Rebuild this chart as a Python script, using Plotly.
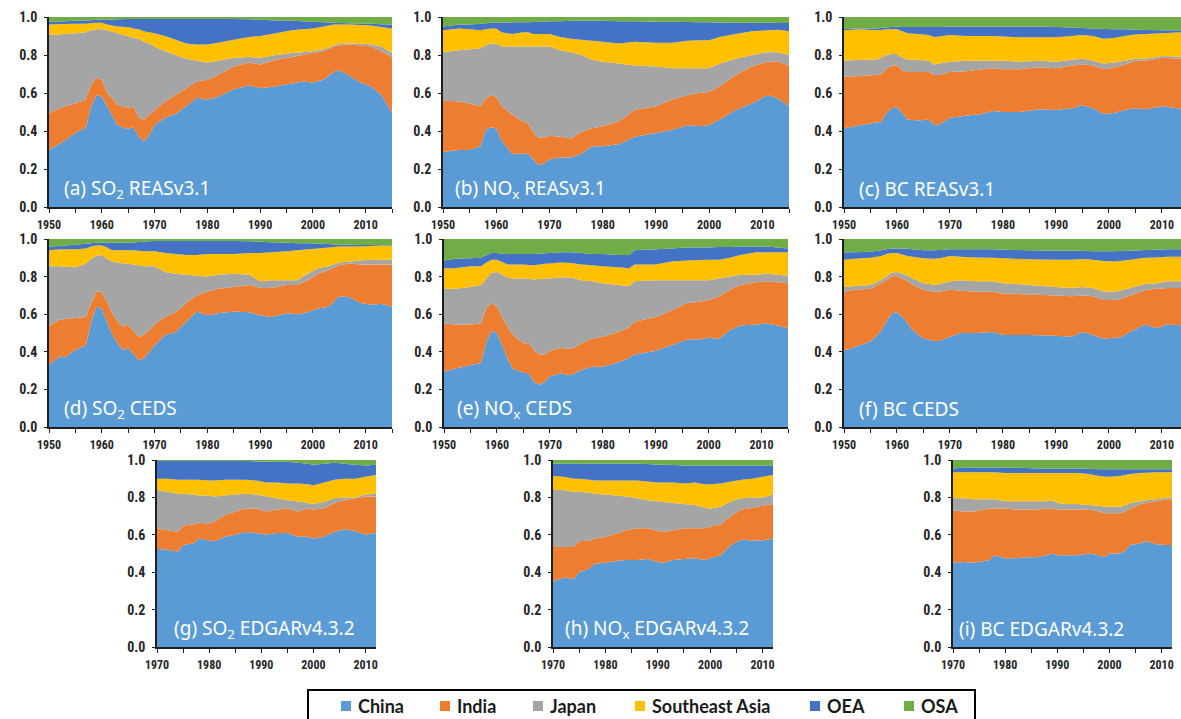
import plotly.graph_objects as go

# ---------------- DATA (cumulative share: top edge of each stacked layer) ----------------
REGIONS = ["China", "India", "Japan", "Southeast Asia", "OEA", "OSA"]
COLORS = ["#5B9BD5", "#ED7D31", "#A5A5A5", "#FFC000", "#4472C4", "#70AD47"]

# (a) SO2 REASv3.1
A_YEARS = [1950,1953,1955,1957,1958,1959,1960,1961,1963,1965,1966,1967,1968,1969,1970,1972,1974,1976,1978,1980,1982,1985,1988,1990,1993,1996,1998,2000,2002,2004,2005,2007,2009,2011,2013,2015]
A_CHINA = [.30,.35,.39,.42,.53,.59,.58,.53,.43,.41,.42,.37,.345,.38,.43,.47,.49,.53,.575,.565,.58,.62,.64,.625,.635,.65,.66,.655,.67,.71,.72,.69,.655,.635,.59,.495]
A_INDIA = [.495,.53,.545,.565,.645,.68,.67,.60,.54,.52,.53,.47,.46,.485,.51,.555,.59,.625,.66,.67,.695,.74,.76,.75,.775,.79,.80,.81,.82,.845,.85,.855,.85,.845,.82,.79]
A_JAPAN = [.905,.91,.915,.92,.93,.935,.935,.93,.915,.90,.89,.885,.87,.86,.845,.82,.80,.78,.77,.76,.77,.785,.79,.785,.80,.81,.815,.82,.83,.85,.86,.86,.86,.855,.845,.81]
A_SEA = [.96,.963,.965,.965,.968,.97,.97,.96,.95,.947,.94,.935,.925,.92,.915,.90,.88,.86,.855,.855,.865,.88,.895,.90,.915,.93,.935,.94,.95,.96,.96,.96,.958,.955,.948,.94]
A_OEA = [.975,.978,.98,.982,.983,.985,.985,.986,.988,.99,.99,.99,.99,.99,.99,.99,.99,.99,.99,.99,.99,.99,.988,.985,.982,.98,.978,.975,.972,.97,.968,.967,.965,.964,.962,.96]

# (b) NOx REASv3.1
B_YEARS = [1950,1953,1955,1957,1958,1959,1960,1961,1963,1965,1966,1967,1968,1969,1970,1972,1974,1976,1978,1980,1983,1986,1990,1993,1996,1998,2000,2002,2005,2008,2011,2013,2015]
B_CHINA = [.29,.30,.30,.32,.405,.42,.415,.35,.28,.28,.28,.25,.22,.23,.25,.26,.26,.28,.32,.32,.33,.37,.39,.405,.43,.425,.43,.46,.51,.545,.59,.57,.53]
B_INDIA = [.56,.555,.545,.53,.57,.59,.58,.53,.485,.45,.44,.39,.365,.365,.375,.37,.36,.395,.415,.425,.45,.51,.53,.565,.59,.60,.605,.635,.695,.74,.765,.765,.745]
B_JAPAN = [.815,.825,.83,.835,.85,.86,.86,.845,.845,.845,.845,.845,.845,.845,.845,.825,.815,.80,.775,.765,.755,.745,.74,.73,.73,.73,.73,.755,.78,.80,.815,.815,.80]
B_SEA = [.93,.94,.935,.93,.935,.94,.94,.92,.91,.92,.92,.91,.91,.91,.91,.895,.885,.88,.875,.87,.86,.87,.865,.865,.875,.878,.878,.895,.91,.925,.93,.933,.925]
B_OEA = [.95,.96,.96,.965,.967,.97,.97,.97,.972,.972,.972,.974,.975,.976,.977,.978,.98,.98,.98,.98,.978,.977,.975,.975,.974,.973,.972,.971,.97,.97,.97,.969,.968]

# (c) BC REASv3.1
C_YEARS = [1950,1953,1956,1957,1958,1959,1960,1961,1962,1964,1966,1967,1968,1970,1973,1976,1978,1980,1983,1987,1990,1993,1995,1997,1999,2001,2003,2005,2007,2010,2014]
C_CHINA = [.415,.43,.445,.447,.495,.52,.525,.495,.46,.455,.46,.43,.435,.47,.48,.49,.505,.50,.50,.515,.51,.52,.535,.52,.49,.495,.51,.52,.515,.53,.515]
C_INDIA = [.685,.69,.695,.70,.725,.745,.745,.72,.71,.71,.71,.695,.695,.71,.715,.725,.73,.725,.725,.735,.73,.745,.75,.745,.725,.735,.75,.77,.77,.785,.78]
C_JAPAN = [.77,.775,.775,.785,.80,.805,.805,.785,.775,.775,.77,.75,.755,.765,.77,.77,.77,.77,.765,.77,.765,.775,.78,.77,.755,.76,.77,.78,.78,.795,.79]
C_SEA = [.93,.935,.93,.932,.935,.935,.935,.925,.915,.91,.905,.895,.897,.905,.90,.90,.90,.898,.893,.893,.893,.90,.905,.90,.885,.89,.90,.908,.91,.915,.92]
C_OEA = [.937,.94,.94,.942,.945,.948,.95,.948,.947,.947,.947,.947,.948,.95,.95,.95,.95,.95,.95,.95,.947,.945,.942,.94,.937,.936,.935,.933,.932,.93,.93]

# (d) SO2 CEDS
D_YEARS = [1950,1952,1953,1955,1957,1958,1959,1960,1961,1962,1963,1964,1965,1966,1967,1968,1969,1970,1972,1974,1976,1978,1980,1982,1985,1988,1990,1992,1995,1997,1999,2001,2003,2005,2007,2009,2011,2013,2015]
D_CHINA = [.33,.375,.37,.41,.435,.56,.64,.63,.56,.49,.445,.41,.42,.39,.355,.365,.40,.435,.49,.505,.56,.615,.595,.605,.615,.61,.595,.585,.605,.60,.61,.63,.64,.695,.69,.66,.65,.655,.64]
D_INDIA = [.54,.57,.575,.58,.585,.66,.72,.72,.665,.605,.56,.535,.545,.51,.48,.49,.515,.545,.585,.61,.66,.70,.72,.735,.745,.755,.74,.74,.755,.755,.78,.815,.835,.86,.87,.865,.865,.865,.865]
D_JAPAN = [.855,.855,.853,.85,.87,.895,.91,.915,.895,.88,.875,.87,.87,.865,.86,.855,.855,.855,.825,.815,.81,.805,.80,.81,.815,.81,.775,.78,.78,.78,.815,.845,.855,.875,.88,.885,.89,.89,.89]
D_SEA = [.94,.945,.945,.945,.95,.96,.965,.965,.955,.94,.94,.94,.94,.94,.938,.935,.935,.935,.925,.92,.915,.915,.92,.92,.92,.925,.925,.93,.935,.94,.945,.95,.955,.96,.96,.96,.963,.965,.965]
D_OEA = [.96,.963,.965,.97,.975,.978,.98,.98,.98,.98,.98,.98,.98,.982,.984,.986,.988,.99,.99,.99,.99,.99,.99,.99,.99,.988,.985,.983,.98,.978,.977,.975,.973,.97,.969,.968,.968,.968,.968]

# (e) NOx CEDS
E_YEARS = [1950,1952,1955,1957,1958,1959,1960,1961,1962,1963,1965,1966,1967,1968,1969,1970,1972,1974,1976,1978,1980,1983,1985,1986,1990,1993,1996,1998,2000,2002,2004,2006,2009,2011,2013,2015]
E_CHINA = [.295,.31,.33,.34,.455,.51,.50,.435,.365,.31,.29,.285,.24,.225,.24,.27,.285,.275,.305,.32,.32,.345,.37,.385,.405,.435,.465,.465,.475,.47,.515,.54,.545,.55,.54,.525]
E_INDIA = [.55,.545,.545,.55,.63,.66,.64,.585,.535,.49,.445,.445,.41,.385,.385,.405,.42,.415,.445,.47,.48,.505,.53,.56,.585,.62,.66,.665,.675,.695,.73,.755,.77,.775,.77,.765]
E_JAPAN = [.735,.735,.745,.755,.79,.82,.825,.81,.795,.79,.79,.788,.785,.787,.79,.79,.795,.795,.78,.775,.765,.755,.75,.775,.78,.78,.78,.78,.78,.79,.80,.81,.81,.815,.81,.805]
E_SEA = [.845,.845,.855,.855,.875,.89,.89,.878,.865,.865,.865,.862,.86,.865,.868,.87,.875,.873,.865,.86,.855,.85,.845,.865,.865,.88,.885,.888,.89,.89,.90,.915,.93,.93,.93,.93]
E_OEA = [.885,.895,.897,.90,.915,.925,.925,.922,.92,.92,.92,.92,.92,.922,.924,.925,.93,.93,.925,.92,.92,.915,.915,.94,.945,.95,.955,.955,.955,.957,.957,.96,.96,.96,.955,.95]

# (f) BC CEDS
F_YEARS = [1950,1952,1955,1957,1958,1959,1960,1961,1962,1963,1965,1966,1967,1968,1970,1972,1975,1978,1980,1985,1990,1993,1995,1997,1999,2001,2002,2004,2006,2007,2009,2011,2014]
F_CHINA = [.405,.425,.455,.51,.56,.605,.61,.585,.55,.515,.47,.465,.457,.457,.48,.50,.50,.505,.49,.49,.485,.48,.505,.49,.47,.475,.475,.505,.535,.545,.525,.545,.54]
F_INDIA = [.72,.73,.735,.765,.78,.80,.805,.79,.775,.755,.73,.725,.72,.72,.73,.725,.72,.72,.71,.705,.70,.695,.70,.695,.675,.675,.68,.70,.72,.73,.735,.74,.74]
F_JAPAN = [.745,.75,.755,.78,.80,.82,.825,.815,.805,.79,.765,.76,.755,.76,.775,.78,.775,.775,.765,.755,.745,.74,.745,.74,.72,.72,.725,.74,.755,.76,.765,.775,.775]
F_SEA = [.89,.895,.90,.91,.92,.925,.925,.918,.91,.905,.897,.896,.895,.897,.91,.905,.902,.90,.897,.892,.89,.89,.893,.89,.883,.88,.883,.89,.897,.90,.902,.905,.905]
F_OEA = [.93,.93,.932,.94,.945,.95,.95,.95,.948,.945,.94,.94,.94,.942,.945,.945,.945,.945,.943,.94,.937,.937,.938,.935,.935,.935,.936,.937,.94,.941,.943,.945,.945]

# (g) SO2 EDGARv4.3.2
G_YEARS = [1970,1972,1974,1975,1977,1978,1980,1981,1983,1985,1987,1989,1991,1993,1995,1997,1999,2000,2002,2004,2006,2008,2010,2012]
G_CHINA = [.525,.52,.51,.545,.555,.58,.57,.565,.59,.60,.615,.61,.60,.61,.61,.59,.59,.58,.59,.615,.63,.62,.60,.61]
G_INDIA = [.635,.625,.615,.65,.655,.665,.66,.67,.705,.725,.74,.74,.725,.735,.74,.725,.74,.735,.74,.77,.785,.795,.805,.805]
G_JAPAN = [.84,.83,.82,.82,.815,.81,.81,.805,.81,.815,.82,.815,.805,.795,.785,.78,.77,.765,.775,.795,.80,.80,.815,.82]
G_SEA = [.90,.90,.895,.895,.895,.895,.89,.89,.895,.895,.895,.89,.88,.88,.875,.875,.87,.865,.88,.895,.90,.90,.91,.92]
G_OEA = [.995,.995,.995,.995,.995,.995,.995,.995,.995,.995,.995,.993,.99,.99,.99,.985,.98,.975,.98,.985,.98,.975,.97,.975]

# (h) NOx EDGARv4.3.2
H_YEARS = [1970,1972,1974,1975,1977,1978,1980,1982,1984,1986,1988,1990,1991,1993,1995,1997,1999,2000,2002,2004,2006,2008,2010,2012]
H_CHINA = [.35,.37,.365,.40,.42,.445,.45,.46,.465,.465,.47,.455,.45,.465,.47,.475,.465,.475,.49,.545,.575,.57,.57,.58]
H_INDIA = [.535,.535,.535,.565,.57,.58,.59,.605,.625,.635,.635,.62,.615,.625,.635,.635,.635,.645,.655,.70,.735,.745,.755,.765]
H_JAPAN = [.84,.84,.83,.83,.825,.82,.815,.81,.805,.795,.785,.78,.775,.77,.765,.76,.745,.74,.75,.78,.795,.80,.80,.815]
H_SEA = [.915,.91,.90,.90,.895,.89,.89,.89,.89,.89,.885,.88,.88,.88,.875,.88,.87,.87,.875,.885,.895,.90,.91,.92]
H_OEA = [.98,.98,.98,.98,.98,.98,.98,.98,.98,.98,.978,.975,.975,.973,.97,.97,.97,.97,.97,.97,.97,.97,.97,.97]

# (i) BC EDGARv4.3.2
I_YEARS = [1970,1972,1974,1976,1977,1978,1980,1982,1984,1986,1988,1989,1990,1992,1994,1996,1998,1999,2000,2002,2003,2004,2006,2007,2009,2011,2012]
I_CHINA = [.45,.455,.45,.46,.465,.49,.475,.475,.48,.48,.49,.50,.49,.49,.49,.50,.49,.48,.50,.50,.515,.545,.555,.565,.55,.545,.545]
I_INDIA = [.73,.725,.725,.735,.74,.74,.74,.735,.735,.735,.74,.74,.735,.735,.735,.735,.725,.715,.715,.715,.725,.74,.765,.77,.78,.79,.79]
I_JAPAN = [.795,.795,.79,.79,.79,.79,.78,.78,.78,.78,.78,.785,.77,.765,.765,.76,.755,.75,.75,.75,.755,.77,.78,.785,.79,.80,.80]
I_SEA = [.935,.935,.935,.935,.935,.935,.93,.93,.93,.93,.93,.93,.93,.93,.93,.925,.915,.912,.91,.915,.92,.925,.93,.932,.935,.935,.935]
I_OEA = [.955,.958,.96,.96,.96,.96,.96,.958,.957,.955,.955,.955,.955,.955,.955,.953,.95,.95,.95,.95,.95,.95,.95,.95,.95,.95,.95]

PANEL_LABELS = ["(a) SO<sub>2</sub> REASv3.1", "(b) NO<sub>x</sub> REASv3.1", "(c) BC REASv3.1",
                "(d) SO<sub>2</sub> CEDS", "(e) NO<sub>x</sub> CEDS", "(f) BC CEDS",
                "(g) SO<sub>2</sub> EDGARv4.3.2", "(h) NO<sub>x</sub> EDGARv4.3.2", "(i) BC EDGARv4.3.2"]
Y_TICKS = [0.0, 0.2, 0.4, 0.6, 0.8, 1.0]

# ---------------- LAYOUT GEOMETRY (pixels) ----------------
W, H = 1181, 719
panels = [
    # years, series, x-pixels, y-pixels, x-range, label offset px
    (A_YEARS, [A_CHINA, A_INDIA, A_JAPAN, A_SEA, A_OEA], (49, 392), (17, 207), (1950, 2015), 13),
    (B_YEARS, [B_CHINA, B_INDIA, B_JAPAN, B_SEA, B_OEA], (443, 789), (17, 207), (1950, 2015), 10),
    (C_YEARS, [C_CHINA, C_INDIA, C_JAPAN, C_SEA, C_OEA], (844, 1181), (17, 207), (1950, 2013.6), 13),
    (D_YEARS, [D_CHINA, D_INDIA, D_JAPAN, D_SEA, D_OEA], (49, 392), (239, 427), (1950, 2015), 13),
    (E_YEARS, [E_CHINA, E_INDIA, E_JAPAN, E_SEA, E_OEA], (444, 788), (239, 427), (1950, 2015), 11),
    (F_YEARS, [F_CHINA, F_INDIA, F_JAPAN, F_SEA, F_OEA], (844, 1181), (239, 427), (1950, 2013.6), 13),
    (G_YEARS, [G_CHINA, G_INDIA, G_JAPAN, G_SEA, G_OEA], (157, 376), (460, 647), (1970, 2012), 15),
    (H_YEARS, [H_CHINA, H_INDIA, H_JAPAN, H_SEA, H_OEA], (553, 773), (460, 647), (1970, 2012), 10),
    (I_YEARS, [I_CHINA, I_INDIA, I_JAPAN, I_SEA, I_OEA], (953, 1172), (460, 647), (1970, 2012), 4),
]

TICK_FONT = "Liberation Sans Narrow, Roboto Condensed, Lato, sans-serif"
fig = go.Figure()
layout = dict(width=W, height=H, margin=dict(l=0, r=0, t=0, b=0, autoexpand=False),
              paper_bgcolor="white", plot_bgcolor="white", showlegend=False)
annotations = []
shapes = []

for k, (years, series, (px0, px1), (py0, py1), (xr0, xr1), lab_off) in enumerate(panels):
    n = k + 1
    xa = "x" if n == 1 else f"x{n}"
    ya = "y" if n == 1 else f"y{n}"
    tops = series + [[1.0] * len(years)]
    for j, (name, col, top) in enumerate(zip(REGIONS, COLORS, tops)):
        fig.add_trace(go.Scatter(
            x=years, y=top, name=name, mode="none",
            fill="tozeroy" if j == 0 else "tonexty", fillcolor=col,
            xaxis=xa, yaxis=ya, hoverinfo="x+name"))
    layout["xaxis" if n == 1 else f"xaxis{n}"] = dict(
        domain=[px0 / W, px1 / W], range=[xr0, xr1], anchor=ya, automargin=False,
        showgrid=False, zeroline=False, showline=True, linecolor="#1f1f1f", linewidth=1.5,
        ticks="outside", ticklen=4, tickwidth=1.2, tickcolor="#1f1f1f",
        tickmode="linear", tick0=xr0, dtick=10, ticklabelstandoff=2,
        minor=dict(ticks="outside", ticklen=4, tickwidth=1.2, tickcolor="#1f1f1f", dtick=5, tick0=xr0),
        tickfont=dict(family=TICK_FONT, size=12, color="#262626", weight="bold"))
    layout["yaxis" if n == 1 else f"yaxis{n}"] = dict(
        domain=[1 - py1 / H, 1 - py0 / H], range=[0, 1], anchor=xa, automargin=False,
        showgrid=False, zeroline=False, showline=True, linecolor="#1f1f1f", linewidth=1.5,
        ticks="outside", ticklen=3, tickwidth=1.2, tickcolor="#1f1f1f",
        tickvals=Y_TICKS, tickformat=".1f", ticklabelstandoff=4,
        tickfont=dict(family=TICK_FONT, size=14, color="#262626", weight="bold"))
    annotations.append(dict(
        text=PANEL_LABELS[k], xref=f"{xa} domain", yref=f"{ya} domain",
        x=lab_off / (px1 - px0), y=0.095, xanchor="left", yanchor="middle",
        showarrow=False, font=dict(family="Noto Sans, Lato, sans-serif", size=19, color="white")))

# ---------------- LEGEND (boxed, bottom centre) ----------------
shapes.append(dict(type="rect", xref="paper", yref="paper",
                   x0=308 / W, x1=975 / W, y0=1 - 722 / H, y1=1 - 690 / H,
                   line=dict(color="black", width=2), fillcolor="rgba(0,0,0,0)"))
leg_sq = [341, 440, 533, 635, 810, 904]
for name, col, sx in zip(REGIONS, COLORS, leg_sq):
    shapes.append(dict(type="rect", xref="paper", yref="paper",
                       x0=sx / W, x1=(sx + 10) / W, y0=1 - 711 / H, y1=1 - 701 / H,
                       line=dict(width=0), fillcolor=col))
    annotations.append(dict(text=name, xref="paper", yref="paper",
                            x=(sx + 15) / W, y=1 - 706 / H, xanchor="left", yanchor="middle",
                            showarrow=False,
                            font=dict(family="Lato, sans-serif", size=18, color="#1a1a1a", weight="bold")))

layout["annotations"] = annotations
layout["shapes"] = shapes
fig.update_layout(**layout)
fig.write_html("out.html", config={"displayModeBar": False},
               post_script="document.body.style.margin='0';document.body.style.overflow='hidden';")
